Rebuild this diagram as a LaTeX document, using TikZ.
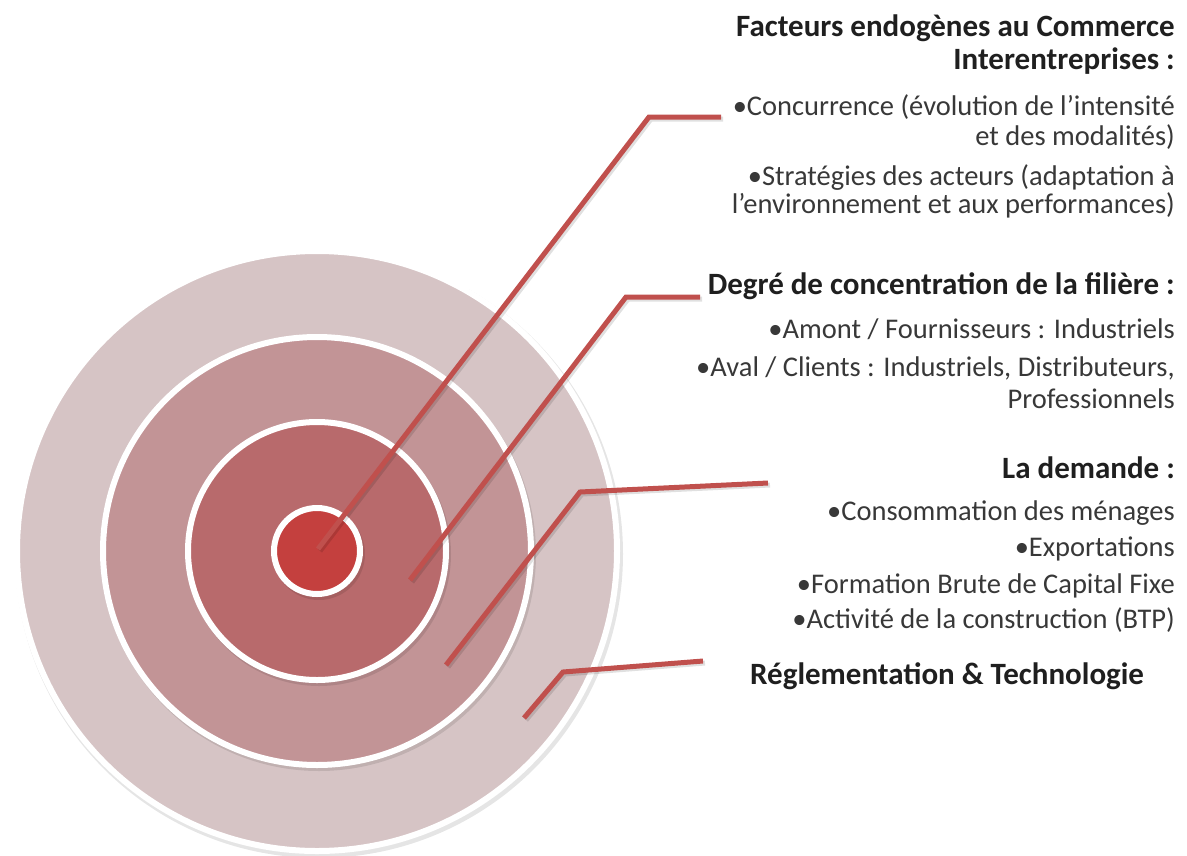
\documentclass[tikz,border=0pt]{standalone}
\usepackage{fontspec}
\setmainfont{Carlito}
\begin{document}
\begin{tikzpicture}[x=1pt,y=-1pt,
  ringA/.style={fill=ringa, draw=white, line width=6pt},
  ringB/.style={fill=ringb, draw=white, line width=6pt},
  ringC/.style={fill=ringc, draw=white, line width=6pt},
  ringD/.style={fill=ringd, draw=white, line width=6pt},
  ringshadow/.style={fill=black, opacity=0.10},
  conn/.style={draw=connred, line width=5pt, line join=miter},
  connshadow/.style={draw=black, opacity=0.12, line width=5pt, line join=miter},
  head/.style={font=\fontsize{31}{33}\selectfont\bfseries, text=black!88, inner sep=0pt},
  item/.style={anchor=base east, font=\fontsize{28.5}{30}\selectfont, text=black!78, inner sep=0pt}]
\definecolor{ringa}{RGB}{214,196,197}
\definecolor{ringb}{RGB}{194,148,150}
\definecolor{ringc}{RGB}{184,106,108}
\definecolor{ringd}{RGB}{196,64,62}
\definecolor{connred}{RGB}{192,80,77}
\useasboundingbox (0,0) rectangle (1187,855);
\coordinate (c) at (317,551);
% target
\path[ringshadow] ([shift={(2,3)}]c) circle (304);
\path[ringA] (c) circle (300);
\path[ringshadow] ([shift={(2,3)}]c) circle (217);
\path[ringB] (c) circle (214);
\path[ringshadow] ([shift={(2,3)}]c) circle (132);
\path[ringC] (c) circle (129);
\path[ringshadow] ([shift={(2,3)}]c) circle (46);
\path[ringD] (c) circle (43);
% connectors
\coordinate (s1) at (318,549);
\coordinate (e1) at (649,117);
\coordinate (t1) at (721,117);
\coordinate (s2) at (410,580);
\coordinate (e2) at (626,297);
\coordinate (t2) at (700,297);
\coordinate (s3) at (446,665);
\coordinate (e3) at (580,492);
\coordinate (t3) at (768,483);
\coordinate (s4) at (524,718);
\coordinate (e4) at (563,672);
\coordinate (t4) at (703,661);
\foreach \a/\b/\t in {s1/e1/t1, s2/e2/t2, s3/e3/t3, s4/e4/t4}{
  \draw[connshadow] ([shift={(2,2)}]\a) -- ([shift={(2,2)}]\b) -- ([shift={(2,2)}]\t);
}
\draw[conn] (s1) -- (e1) -- (t1);
\draw[conn] (s2) -- (e2) -- (t2);
\draw[conn] (s3) -- (e3) -- (t3);
\draw[conn] (s4) -- (e4) -- (t4);
% texts
\node[head, anchor=base east] (h1a) at (1175,36) {Facteurs endogènes au Commerce};
\node[head, anchor=base east] (h1b) at (1175,69) {Interentreprises :};
\node[item] (i1a) at (1175,115) {•Concurrence (évolution de l’intensité};
\node[item] (i1b) at (1175,145) {et des modalités)};
\node[item] (i1c) at (1175,185) {•Stratégies des acteurs (adaptation à};
\node[item] (i1d) at (1175,213) {l’environnement et aux performances)};
\node[head, anchor=base east] (h2) at (1175,294) {Degré de concentration de la filière :};
\node[item] (i2a) at (1175,338) {•Amont / Fournisseurs : Industriels};
\node[item] (i2b) at (1175,376) {•Aval / Clients : Industriels, Distributeurs,};
\node[item] (i2c) at (1175,408) {Professionnels};
\node[head, anchor=base east] (h3) at (1175,478) {La demande :};
\node[item] (i3a) at (1175,520) {•Consommation des ménages};
\node[item] (i3b) at (1175,556) {•Exportations};
\node[item] (i3c) at (1175,593) {•Formation Brute de Capital Fixe};
\node[item] (i3d) at (1175,628) {•Activité de la construction (BTP)};
\node[head, anchor=base west] (h4) at (750,684) {Réglementation \& Technologie};
\end{tikzpicture}
\end{document}
